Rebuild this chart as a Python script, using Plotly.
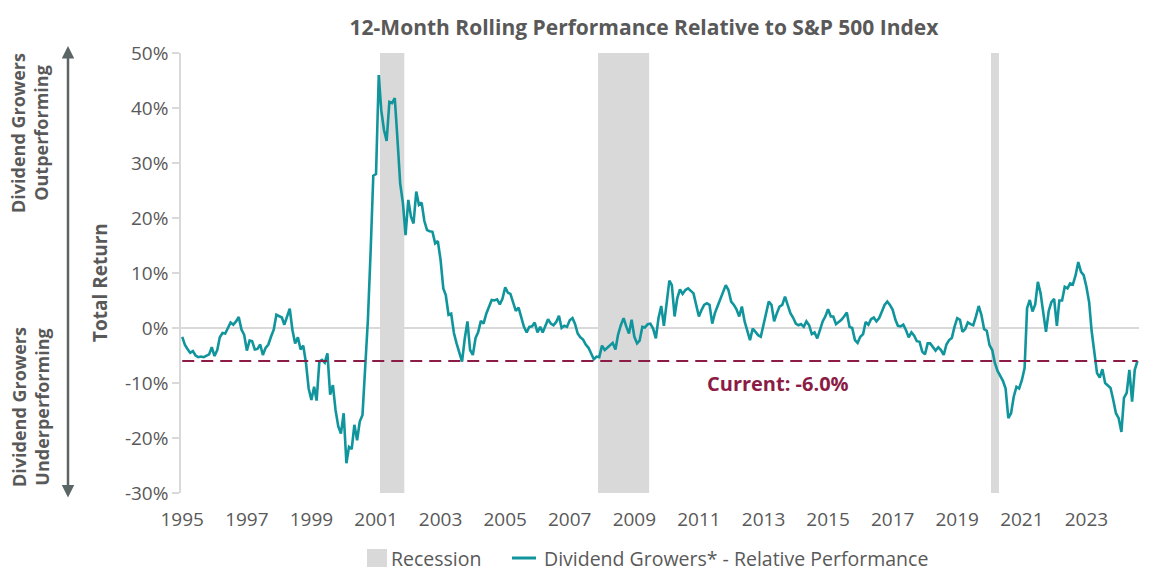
import pandas as pd
import plotly.graph_objects as go

# ---------------- data ----------------
start_month = "1995-01-01"

perf_1995_2000 = [
    -1.6, -3.1, -3.8, -4.5, -4.2, -5.0, -5.3, -5.2, -5.3, -5.1, -4.8, -3.5,
    -5.1, -4.0, -1.7, -0.9, -1.0, 0.0, 1.0, 0.6, 1.2, 2.0, -0.3, -1.2,
    -4.1, -2.3, -2.4, -3.9, -3.8, -3.0, -4.9, -3.6, -3.0, -1.6, -0.3, 2.4,
    2.2, 1.9, 0.6, 2.3, 3.5, -0.4, -2.8, -1.7, -3.9, -3.2, -6.4, -11.0,
    -13.1, -10.7, -13.2, -6.1, -5.8, -6.3, -4.6, -12.1, -10.4, -14.9, -17.9, -19.2,
    -15.5, -24.6, -21.6, -22.0, -17.6, -20.4, -17.0, -15.8, -6.4, 1.5, 14.0, 27.7,
]
perf_2001_2006 = [
    28.0, 46.0, 39.6, 36.0, 34.0, 41.1, 40.9, 41.8, 34.2, 26.3, 22.7, 16.9,
    23.3, 20.2, 19.0, 24.8, 22.4, 22.8, 19.5, 17.8, 17.6, 17.5, 15.4, 15.8,
    12.4, 7.2, 6.0, 2.4, 2.6, -0.9, -2.8, -4.4, -6.1, -2.0, 1.2, -4.0,
    -4.9, -1.8, -0.8, 1.3, 0.8, 2.6, 4.0, 5.1, 5.0, 5.2, 4.3, 5.3,
    7.4, 6.4, 6.2, 4.5, 3.1, 3.7, 1.8, 0.2, -0.8, 0.2, 0.3, 1.0,
    -0.8, 0.2, -0.8, 0.5, 1.6, 0.8, 0.5, 1.1, 2.2, 0.0, 0.4, 0.2,
]
perf_2007_2012 = [
    1.4, 1.8, 0.8, -1.0, -1.7, -2.1, -3.0, -3.6, -4.8, -5.7, -5.2, -5.3,
    -3.2, -4.0, -3.6, -3.2, -2.7, -3.9, -1.2, 0.5, 1.8, 0.3, -1.0, 1.5,
    -1.6, -2.8, -2.3, 0.2, 0.1, 0.7, 0.8, -0.1, -1.9, 1.8, 4.0, 0.4,
    4.2, 8.6, 7.8, 2.1, 5.4, 7.0, 6.2, 6.9, 7.2, 6.8, 6.3, 4.2,
    2.1, 3.3, 4.2, 4.5, 4.2, 0.8, 2.7, 4.0, 5.2, 6.4, 7.8, 6.9,
    4.8, 4.2, 3.4, 2.1, 3.9, 1.2, -0.4, -2.2, -0.1, -0.8, -1.3,
]
perf_2013_2018 = [
    -1.6, 0.8, 2.7, 4.8, 4.2, 1.2, 2.7, 3.9, 4.2, 5.7,
    4.2, 2.7, 1.9, 0.8, 0.5, 0.7, 0.2, 1.2, 0.5, -1.1,
    -0.8, -1.9, -0.4, 1.2, 2.1, 3.4, 2.1, 2.1, 0.7, 1.1,
    1.5, 2.1, 2.8, 0.2, 0.0, -2.2, -2.7, -1.6, -1.1, 1.1,
    0.6, 1.6, 1.9, 1.2, 1.8, 3.0, 4.2, 4.8, 4.2, 3.3,
    1.5, 0.4, 0.3, 0.6, -0.4, -1.7, -0.8, -1.4, -2.4, -2.5,
    -4.3, -4.8, -2.8, -2.8, -3.5, -4.1, -3.5, -4.0, -4.9, -3.0,
    -2.2, -1.8, 0.2, 1.8,
]
perf_2019_2024 = [
    1.5, -0.7, -0.2, 1.0, 0.7, 0.5, 2.1, 4.0, 2.4, -0.2, -0.5, -3.1,
    -4.0, -6.3, -7.8, -8.6, -9.6, -11.0, -16.4, -15.5, -12.5, -10.7, -11.0, -9.5,
    -7.3, 3.6, 5.1, 3.0, 4.3, 8.4, 6.3, 2.7, -0.7, 3.1, 4.7, 5.3,
    0.4, 5.0, 5.0, 7.5, 7.2, 8.1, 7.9, 9.6, 12.0, 10.2, 9.6, 7.5,
    4.7, -0.5, -4.2, -8.2, -9.0, -7.5, -10.0, -10.5, -10.9, -13.1, -15.5, -16.4,
    -18.9, -12.7, -11.8, -7.6, -13.4, -7.6, -6.0,
]

current_value = -6.0
current_label = "Current: -6.0%"

recession_starts = ["2001-03-01", "2007-12-01", "2020-02-01"]
recession_ends = ["2001-12-01", "2009-07-01", "2020-05-01"]

tick_years = list(range(1995, 2024, 2))
y_ticks = [-30, -20, -10, 0, 10, 20, 30, 40, 50]
y_ticklabels = ["-30%", "-20%", "-10%", "0%", "10%", "20%", "30%", "40%", "50%"]

title_text = "12-Month Rolling Performance Relative to S&P 500 Index"
y_title = "Total Return"
upper_note = "Dividend Growers<br>Outperforming"
lower_note = "Dividend Growers<br>Underperforming"
line_name = "Dividend Growers* - Relative Performance"
recession_name = "Recession"

# ---------------- build ----------------
values = perf_1995_2000 + perf_2001_2006 + perf_2007_2012 + perf_2013_2018 + perf_2019_2024
dates = pd.date_range(start=start_month, periods=len(values), freq="MS") + pd.Timedelta(days=14)

TEAL = "#11959c"
MAROON = "#8b1c45"
GRAY_TXT = "#595959"
LIGHT = "#d9d9d9"
FONT = "Open Sans"

L, R, T, B = 181, 13, 53, 84
W, H = 1152, 577
pw = W - L - R
ph = H - T - B


def px_x(px):
    return (px - L) / pw


def px_y(py):
    return (H - B - py) / ph


fig = go.Figure()

fig.add_trace(go.Scatter(
    x=dates, y=values, mode="lines", name=line_name,
    line=dict(color=TEAL, width=2.6), showlegend=False,
))

fig.add_trace(go.Scatter(
    x=[dates[0], dates[-1]], y=[current_value, current_value], mode="lines",
    line=dict(color=MAROON, width=2, dash="12px,7px"), showlegend=False,
    hoverinfo="skip",
))

for s, e in zip(recession_starts, recession_ends):
    fig.add_vrect(x0=s, x1=e, fillcolor=LIGHT, opacity=1, line_width=0, layer="below")

fig.update_layout(
    width=W, height=H,
    margin=dict(l=L, r=R, t=T, b=B, autoexpand=False),
    paper_bgcolor="white", plot_bgcolor="white",
    font=dict(family=FONT, color=GRAY_TXT, size=19),
    title=dict(
        text="<b>" + title_text + "</b>",
        x=644 / W, xanchor="center", y=1 - 28 / H, yanchor="middle",
        font=dict(size=21, color=GRAY_TXT, family=FONT),
    ),
    showlegend=False,
    xaxis=dict(
        type="date",
        range=["1995-01-01", "2024-09-01"],
        tickvals=[f"{y}-01-15" for y in tick_years],
        ticktext=[str(y) for y in tick_years],
        showgrid=False, zeroline=False, showline=False,
        ticks="", ticklabelstandoff=13,
        tickfont=dict(size=19, color=GRAY_TXT),
    ),
    yaxis=dict(
        range=[-30, 50], tickvals=y_ticks, ticktext=y_ticklabels,
        showgrid=False, zeroline=True, zerolinecolor=LIGHT, zerolinewidth=2,
        showline=True, linecolor=LIGHT, linewidth=1.5,
        ticks="outside", ticklen=7, tickcolor=LIGHT, tickwidth=1.5,
        tickfont=dict(size=19, color=GRAY_TXT),
    ),
)

# custom legend (swatches + labels)
fig.add_shape(type="rect", xref="paper", yref="paper",
              x0=px_x(367), x1=px_x(387), y0=px_y(567), y1=px_y(549),
              fillcolor=LIGHT, line_width=0)
fig.add_shape(type="line", xref="paper", yref="paper",
              x0=px_x(512), x1=px_x(536), y0=px_y(558), y1=px_y(558),
              line=dict(color=TEAL, width=3))
fig.add_annotation(x=px_x(389), y=px_y(558), xref="paper", yref="paper",
                   text=recession_name, showarrow=False, xanchor="left", yanchor="middle",
                   font=dict(size=19.5, color=GRAY_TXT, family=FONT))
fig.add_annotation(x=px_x(542), y=px_y(558), xref="paper", yref="paper",
                   text=line_name, showarrow=False, xanchor="left", yanchor="middle",
                   font=dict(size=19.5, color=GRAY_TXT, family=FONT))

fig.add_annotation(
    x="2013-07-01", y=-10.1, xref="x", yref="y",
    text="<b>" + current_label + "</b>", showarrow=False,
    xanchor="center", yanchor="middle",
    font=dict(size=20, color=MAROON, family=FONT),
)

fig.add_annotation(
    x=px_x(100), y=px_y(283), xref="paper", yref="paper",
    text="<b>" + y_title + "</b>", textangle=-90, showarrow=False,
    xanchor="center", yanchor="middle",
    font=dict(size=19, color=GRAY_TXT, family=FONT),
)
fig.add_annotation(
    x=px_x(30), y=px_y(133), xref="paper", yref="paper",
    text="<b>" + upper_note + "</b>", textangle=-90, showarrow=False,
    xanchor="center", yanchor="middle",
    font=dict(size=18, color=GRAY_TXT, family=FONT),
)
fig.add_annotation(
    x=px_x(30), y=px_y(407), xref="paper", yref="paper",
    text="<b>" + lower_note + "</b>", textangle=-90, showarrow=False,
    xanchor="center", yanchor="middle",
    font=dict(size=18, color=GRAY_TXT, family=FONT),
)
# double-headed arrow
fig.add_annotation(
    x=px_x(68), y=px_y(46), xref="paper", yref="paper",
    ax=0, ay=453, axref="pixel", ayref="pixel",
    text="", showarrow=True, arrowhead=2, startarrowhead=2,
    arrowside="end+start", arrowwidth=2.5, arrowsize=1, startarrowsize=1,
    arrowcolor="#5b6566",
)

fig.write_html(
    "out.html",
    config={"displayModeBar": False},
    post_script="document.body.style.margin='0';document.body.style.overflow='hidden';",
)
